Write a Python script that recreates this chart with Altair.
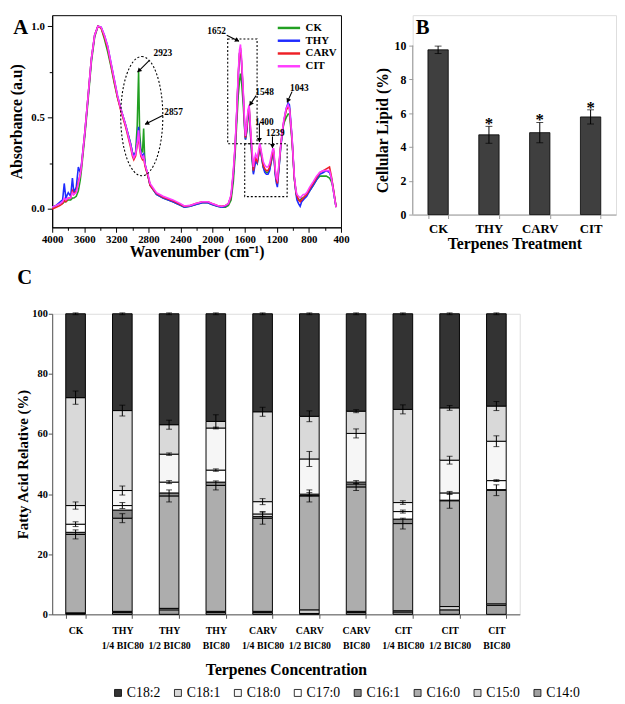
import math
import altair as alt
import pandas as pd

FONT = "Liberation Serif"

# ---------------- Panel A : FTIR spectra ----------------
wavenumber = [4000, 3950, 3900, 3870, 3850, 3830, 3800, 3770, 3748, 3730,
              3700, 3674, 3650, 3634, 3593, 3552, 3512, 3471, 3430, 3390,
              3349, 3308, 3268, 3227, 3186, 3146, 3085, 3024, 3000, 2983,
              2960, 2940, 2923, 2910, 2895, 2875, 2860, 2849, 2840, 2800,
              2780, 2700, 2617, 2495, 2400, 2353, 2280, 2210, 2129, 2060,
              2007, 1940, 1885, 1840, 1803, 1770, 1742, 1720, 1702, 1681,
              1665, 1653, 1640, 1620, 1600, 1591, 1575, 1560, 1545, 1530,
              1513, 1492, 1480, 1464, 1444, 1425, 1411, 1395, 1370, 1350,
              1330, 1310, 1289, 1265, 1249, 1239, 1220, 1205, 1193, 1175,
              1153, 1130, 1112, 1083, 1059, 1043, 1038, 1010, 982, 960,
              949, 929, 909, 890, 870, 850, 827, 790, 746, 705,
              665, 620, 583, 543, 520, 502, 480, 461]
ck = [0.01, 0.02, 0.03, 0.03, 0.04, 0.04, 0.05, 0.05, 0.06, 0.06,
      0.07, 0.10, 0.16, 0.22, 0.40, 0.60, 0.80, 0.94, 1.00, 0.99,
      0.93, 0.86, 0.78, 0.69, 0.61, 0.55, 0.46, 0.36, 0.31, 0.29,
      0.31, 0.46, 0.75, 0.42, 0.33, 0.31, 0.44, 0.30, 0.24, 0.17,
      0.13, 0.08, 0.06, 0.04, 0.02, 0.01, 0.015, 0.025, 0.035, 0.035,
      0.025, 0.015, 0.01, 0.01, 0.02, 0.05, 0.15, 0.30, 0.45, 0.62,
      0.70, 0.74, 0.70, 0.58, 0.43, 0.38, 0.42, 0.50, 0.53, 0.42,
      0.30, 0.20, 0.24, 0.27, 0.25, 0.30, 0.34, 0.30, 0.23, 0.21,
      0.20, 0.20, 0.22, 0.27, 0.31, 0.31, 0.20, 0.15, 0.14, 0.22,
      0.33, 0.42, 0.47, 0.50, 0.52, 0.52, 0.50, 0.37, 0.17, 0.09,
      0.07, 0.05, 0.05, 0.06, 0.06, 0.07, 0.08, 0.10, 0.13, 0.16,
      0.18, 0.18, 0.18, 0.17, 0.15, 0.12, 0.06, 0.01]
thy = [0.01, 0.02, 0.04, 0.05, 0.14, 0.06, 0.09, 0.07, 0.17, 0.09,
       0.12, 0.23, 0.20, 0.25, 0.42, 0.62, 0.82, 0.95, 1.00, 0.995,
       0.95, 0.89, 0.80, 0.71, 0.62, 0.55, 0.46, 0.36, 0.31, 0.29,
       0.31, 0.38, 0.45, 0.36, 0.31, 0.29, 0.30, 0.27, 0.24, 0.17,
       0.13, 0.08, 0.06, 0.04, 0.02, 0.01, 0.015, 0.025, 0.035, 0.035,
       0.025, 0.015, 0.01, 0.015, 0.03, 0.07, 0.19, 0.33, 0.50, 0.72,
       0.85, 0.87, 0.80, 0.64, 0.44, 0.38, 0.43, 0.52, 0.55, 0.43,
       0.31, 0.19, 0.22, 0.26, 0.25, 0.30, 0.34, 0.30, 0.23, 0.20,
       0.19, 0.19, 0.21, 0.27, 0.31, 0.31, 0.19, 0.14, 0.12, 0.21,
       0.33, 0.42, 0.48, 0.55, 0.58, 0.57, 0.55, 0.39, 0.17, 0.08,
       0.05, 0.03, 0.015, 0.04, 0.05, 0.06, 0.07, 0.10, 0.13, 0.16,
       0.19, 0.20, 0.21, 0.20, 0.17, 0.13, 0.06, 0.01]
carv = [0.00, 0.01, 0.02, 0.03, 0.05, 0.04, 0.06, 0.06, 0.10, 0.08,
        0.10, 0.15, 0.19, 0.24, 0.42, 0.62, 0.82, 0.95, 1.00, 0.99,
        0.94, 0.88, 0.79, 0.70, 0.61, 0.54, 0.45, 0.34, 0.29, 0.27,
        0.29, 0.35, 0.40, 0.33, 0.29, 0.27, 0.28, 0.25, 0.23, 0.17,
        0.13, 0.085, 0.065, 0.045, 0.025, 0.015, 0.02, 0.03, 0.04, 0.04,
        0.03, 0.02, 0.015, 0.02, 0.03, 0.07, 0.20, 0.34, 0.50, 0.73,
        0.85, 0.88, 0.81, 0.65, 0.45, 0.39, 0.44, 0.53, 0.56, 0.45,
        0.33, 0.21, 0.25, 0.28, 0.26, 0.31, 0.35, 0.31, 0.24, 0.22,
        0.21, 0.21, 0.23, 0.28, 0.32, 0.32, 0.21, 0.16, 0.14, 0.23,
        0.34, 0.43, 0.48, 0.54, 0.56, 0.55, 0.53, 0.38, 0.17, 0.09,
        0.07, 0.05, 0.04, 0.05, 0.06, 0.07, 0.08, 0.11, 0.14, 0.17,
        0.20, 0.21, 0.22, 0.23, 0.18, 0.13, 0.07, 0.01]
cit = [0.01, 0.02, 0.03, 0.04, 0.06, 0.05, 0.06, 0.06, 0.09, 0.08,
       0.09, 0.14, 0.19, 0.24, 0.42, 0.62, 0.82, 0.95, 1.00, 0.995,
       0.95, 0.89, 0.80, 0.71, 0.62, 0.55, 0.46, 0.35, 0.30, 0.28,
       0.30, 0.36, 0.43, 0.34, 0.30, 0.28, 0.29, 0.26, 0.24, 0.18,
       0.14, 0.09, 0.07, 0.05, 0.03, 0.017, 0.02, 0.03, 0.04, 0.04,
       0.03, 0.02, 0.014, 0.02, 0.03, 0.08, 0.21, 0.35, 0.51, 0.74,
       0.87, 0.90, 0.83, 0.66, 0.46, 0.40, 0.46, 0.54, 0.57, 0.46,
       0.35, 0.23, 0.27, 0.30, 0.28, 0.33, 0.36, 0.32, 0.26, 0.24,
       0.23, 0.23, 0.25, 0.30, 0.33, 0.33, 0.22, 0.17, 0.16, 0.24,
       0.34, 0.43, 0.49, 0.55, 0.57, 0.55, 0.53, 0.39, 0.18, 0.10,
       0.08, 0.07, 0.06, 0.07, 0.08, 0.08, 0.09, 0.12, 0.15, 0.18,
       0.20, 0.21, 0.21, 0.21, 0.17, 0.12, 0.06, 0.01]
series_names = ["CK", "THY", "CARV", "CIT"]
series_colors = ["#22a022", "#1f2bff", "#ee1f26", "#ff3dff"]

peak_labels = ["2923", "2857", "1652", "1548", "1400", "1239", "1043"]
label_wn = [2621, 2487, 1950, 1352, 1356, 1218, 919]
label_abs = [0.852, 0.529, 0.972, 0.642, 0.478, 0.417, 0.661]
arrow_wn_start = [2792, 2617, 1824, 1458, 1417, 1254, 1010]
arrow_abs_start = [0.811, 0.513, 0.950, 0.620, 0.469, 0.397, 0.642]
arrow_wn_end = [2935, 2841, 1673, 1539, 1417, 1254, 1071]
arrow_abs_end = [0.749, 0.464, 0.918, 0.567, 0.367, 0.335, 0.584]

ellipse_wn = [3146, 2621]      # left / right extent
ellipse_abs = [0.834, 0.182]   # top / bottom extent
box_wn_start = [1812, 1600]
box_wn_end = [1446, 1071]
box_abs_top = [0.93, 0.357]
box_abs_bottom = [0.357, 0.068]

# ---------------- Panel B : cellular lipid ----------------
b_treat = ["CK", "THY", "CARV", "CIT"]
b_lipid = [9.75, 4.72, 4.85, 5.78]
b_err = [0.22, 0.50, 0.60, 0.42]
b_star = [False, True, True, True]
b_ticks = [0, 2, 4, 6, 8, 10]

# ---------------- Panel C : fatty acid composition ----------------
c_treat = ["CK", "THY|1/4 BIC80", "THY|1/2 BIC80", "THY|BIC80",
           "CARV|1/4 BIC80", "CARV|1/2 BIC80", "CARV|BIC80",
           "CIT|1/4 BIC80", "CIT|1/2 BIC80", "CIT|BIC80"]
c14_0 = [0.3, 0.6, 1.5, 0.6, 0.6, 0.3, 0.6, 0.8, 1.5, 3.0]
c15_0 = [0.2, 0.4, 0.5, 0.4, 0.4, 1.2, 0.4, 0.4, 1.1, 0.5]
c16_0 = [26.1, 31.0, 37.4, 41.9, 31.0, 37.9, 41.4, 29.0, 35.2, 37.8]
c16_1 = [0.7, 2.7, 1.0, 1.1, 0.6, 0.3, 1.0, 1.5, 0.2, 0.2]
c17_0 = [2.7, 1.5, 3.6, 4.0, 0.8, 0.3, 0.6, 2.5, 2.4, 3.0]
c18_0 = [6.2, 5.0, 9.3, 14.0, 4.1, 11.7, 16.2, 3.0, 10.9, 13.1]
c18_1 = [35.9, 26.6, 9.8, 2.2, 29.9, 14.2, 7.4, 31.0, 17.4, 11.7]
c18_2 = [27.9, 32.2, 36.9, 35.8, 32.6, 34.1, 32.4, 31.8, 31.3, 30.7]
err16_0 = [1.5, 1.5, 2.0, 1.5, 2.0, 2.0, 1.2, 1.8, 2.5, 1.8]
err17_0 = [0.8, 1.0, 0.5, 0.4, 0.8, 0.5, 0.5, 0.5, 0.5, 0.3]
err18_0 = [1.2, 1.5, 0.4, 0.3, 1.0, 2.5, 1.5, 0.6, 1.3, 1.8]
err18_1 = [2.2, 1.8, 1.5, 2.2, 1.5, 1.8, 0.5, 1.5, 0.8, 1.5]
err18_2 = [0.3, 0.3, 0.3, 0.3, 0.3, 0.3, 0.3, 0.3, 0.3, 0.3]
fa_names = ["C14:0", "C15:0", "C16:0", "C16:1", "C17:0", "C18:0", "C18:1", "C18:2"]
fa_legend_order = ["C18:2", "C18:1", "C18:0", "C17:0", "C16:1", "C16:0", "C15:0", "C14:0"]
fa_fill = ["#333333", "#d9d9d9", "#f6f6f6", "#ffffff", "#8a8a8a", "#adadad", "#d0d0d0", "#a0a0a0"]

# ================= build panel A =================
WA, HA = 294, 216
XDOM = [400, 4000]
YDOM = [-0.1, 1.06]
px_per_wn = WA / (XDOM[1] - XDOM[0])
px_per_abs = HA / (YDOM[1] - YDOM[0])

rows = []
for name, vals in zip(series_names, [ck, thy, carv, cit]):
    for w, v in zip(wavenumber, vals):
        rows.append({"wn": w, "abs": v, "series": name})
dfA = pd.DataFrame(rows)

sAx = alt.Scale(domain=XDOM, reverse=True, nice=False, zero=False)
sAy = alt.Scale(domain=YDOM, nice=False, zero=False)
axAx = alt.Axis(values=list(range(400, 4001, 200)), format="d",
                labelExpr="datum.value % 400 == 0 ? datum.label : ''",
                title="Wavenumber (cm⁻¹)", titleFont=FONT, titleFontSize=16,
                titleFontWeight="bold", titleColor="black", titlePadding=0,
                labelFont=FONT, labelFontSize=11, labelFontWeight="bold",
                labelColor="black", labelPadding=1, labelOverlap=False, labelFlush=False,
                domainColor="black", tickColor="black",
                tickSize={"condition": {"test": "datum.value % 400 == 0", "value": 5}, "value": 3},
                grid=False)
axAy = alt.Axis(values=[0, 0.25, 0.5, 0.75, 1.0], format=".1f",
                labelExpr="datum.value == 0.25 || datum.value == 0.75 ? '' : datum.label",
                title="Absorbance (a.u)", titleFont=FONT, titleFontSize=16,
                titleFontWeight="bold", titleColor="black", titlePadding=6,
                labelFont=FONT, labelFontSize=11, labelFontWeight="bold",
                labelColor="black", labelPadding=3, labelOverlap=False,
                domainColor="black", tickColor="black",
                tickSize={"condition": {"test": "datum.value == 0 || datum.value == 0.5 || datum.value == 1", "value": 5}, "value": 3},
                grid=False)

colA = alt.Color("series:N", scale=alt.Scale(domain=series_names, range=series_colors),
                 legend=alt.Legend(title=None, orient="none", legendX=233, legendY=5,
                                   symbolType="M-1.75,0L1.75,0", symbolStrokeWidth=2.5,
                                   symbolSize=169, symbolFillColor="transparent",
                                   labelFont=FONT, labelFontSize=11, labelFontWeight="bold",
                                   labelColor="black", labelOffset=9, rowPadding=0, padding=0))

line_layers = []
for s in series_names:
    line_layers.append(
        alt.Chart(dfA).transform_filter(alt.datum.series == s)
        .mark_line(strokeWidth=1.6)
        .encode(x=alt.X("wn:Q", scale=sAx, axis=axAx),
                y=alt.Y("abs:Q", scale=sAy, axis=axAy),
                color=colA)
    )

dfBox = pd.DataFrame({"w1": box_wn_start, "w2": box_wn_end, "a1": box_abs_top, "a2": box_abs_bottom})
boxes = alt.Chart(dfBox).mark_rect(filled=False, stroke="black", strokeWidth=1.1,
                                   strokeDash=[2, 2]).encode(
    x=alt.X("w1:Q", scale=sAx, axis=axAx), x2="w2:Q",
    y=alt.Y("a1:Q", scale=sAy, axis=axAy), y2="a2:Q")

ell_w = abs(ellipse_wn[0] - ellipse_wn[1]) * px_per_wn
ell_h = abs(ellipse_abs[0] - ellipse_abs[1]) * px_per_abs
a = ell_w / ell_h
k = 0.5523
ell_path = (f"M0,-1C{k*a:.4f},-1,{a:.4f},{-k:.4f},{a:.4f},0"
            f"C{a:.4f},{k:.4f},{k*a:.4f},1,0,1"
            f"C{-k*a:.4f},1,{-a:.4f},{k:.4f},{-a:.4f},0"
            f"C{-a:.4f},{-k:.4f},{-k*a:.4f},-1,0,-1Z")
dfEll = pd.DataFrame({"wn": [sum(ellipse_wn) / 2], "abs": [sum(ellipse_abs) / 2]})
ellipse = alt.Chart(dfEll).mark_point(shape=ell_path, filled=False, stroke="black",
                                      strokeWidth=1.1, strokeDash=[2, 2], opacity=1,
                                      size=ell_h ** 2).encode(
    x=alt.X("wn:Q", scale=sAx, axis=axAx), y=alt.Y("abs:Q", scale=sAy, axis=axAy))

arr_rows = []
for i in range(len(peak_labels)):
    dx = (arrow_wn_start[i] - arrow_wn_end[i]) * px_per_wn
    dy = (arrow_abs_start[i] - arrow_abs_end[i]) * px_per_abs
    ang = math.degrees(math.atan2(dx, -dy)) % 360
    L = math.hypot(dx, dy)
    back = 2.5 / L
    arr_rows.append({"ws": arrow_wn_start[i], "as": arrow_abs_start[i],
                     "we": arrow_wn_end[i], "ae": arrow_abs_end[i],
                     "hw": arrow_wn_end[i] + (arrow_wn_start[i] - arrow_wn_end[i]) * back,
                     "ha": arrow_abs_end[i] + (arrow_abs_start[i] - arrow_abs_end[i]) * back,
                     "ang": ang, "lab": peak_labels[i],
                     "lw": label_wn[i], "la": label_abs[i]})
dfArr = pd.DataFrame(arr_rows)
arrow_lines = alt.Chart(dfArr).mark_rule(color="black", strokeWidth=1.1).encode(
    x=alt.X("ws:Q", scale=sAx, axis=axAx), x2="we:Q",
    y=alt.Y("as:Q", scale=sAy, axis=axAy), y2="ae:Q")
arrow_heads = alt.Chart(dfArr).mark_point(shape="triangle", filled=True, color="black",
                                          opacity=1, size=26).encode(
    x=alt.X("hw:Q", scale=sAx, axis=axAx), y=alt.Y("ha:Q", scale=sAy, axis=axAy),
    angle=alt.Angle("ang:Q", scale=None))
peak_text = alt.Chart(dfArr).mark_text(font=FONT, fontSize=9.5, fontWeight="bold",
                                       color="black").encode(
    x=alt.X("lw:Q", scale=sAx, axis=axAx), y=alt.Y("la:Q", scale=sAy, axis=axAy),
    text="lab:N")
letterA = alt.Chart(pd.DataFrame({"t": ["A"]})).mark_text(
    font=FONT, fontSize=21, fontWeight="bold", color="black", align="center",
    baseline="top").encode(x=alt.value(-32), y=alt.value(2), text="t:N")

panelA = alt.layer(*line_layers, boxes, ellipse, arrow_lines, arrow_heads, peak_text,
                   letterA).properties(width=WA, height=HA,
                                       view=alt.ViewBackground(stroke="black", strokeWidth=1))

# ================= build panel B =================
WB, HB = 207, 203
B_TOP = 11.8
dfB = pd.DataFrame({"t": b_treat, "v": b_lipid, "e": b_err, "star": b_star})
dfB["lo"] = dfB["v"] - dfB["e"]
dfB["hi"] = dfB["v"] + dfB["e"]
sBy = alt.Scale(domain=[0, B_TOP], nice=False)
xB = alt.X("t:N", sort=b_treat, scale=alt.Scale(paddingInner=0.6, paddingOuter=0.3),
           axis=alt.Axis(title="Terpenes Treatment", labelAngle=0, tickBand="extent",
                         titleFont=FONT, titleFontSize=16, titleFontWeight="bold",
                         titleColor="black", titlePadding=1,
                         labelFont=FONT, labelFontSize=13, labelFontWeight="bold",
                         labelColor="black", labelPadding=4,
                         domainColor="#9a9a9a", tickColor="#9a9a9a", tickSize=4))
axBy = alt.Axis(values=b_ticks, title="Cellular Lipid (%)",
                titleFont=FONT, titleFontSize=16, titleFontWeight="bold",
                titleColor="black", titlePadding=4, titleY=HB - 86,
                labelFont=FONT, labelFontSize=12, labelFontWeight="bold",
                labelColor="black", labelPadding=3, labelOverlap=False, grid=False,
                domain=False, tickColor="#9a9a9a", tickSize=4)
baseB = alt.Chart(dfB)
barsB = baseB.mark_bar(fill="#3f3f3f", stroke="black", strokeWidth=0.8).encode(
    x=xB, y=alt.Y("v:Q", scale=sBy, axis=axBy))
axis_line_B = alt.Chart(pd.DataFrame({"lo": [b_ticks[0]], "hi": [b_ticks[-1]]})).mark_rule(
    color="#9a9a9a", strokeWidth=1).encode(
    x=alt.value(0), y=alt.Y("lo:Q", scale=sBy, axis=axBy), y2="hi:Q")
errB = baseB.mark_rule(color="black", strokeWidth=1).encode(
    x=xB, y=alt.Y("lo:Q", scale=sBy, axis=axBy), y2="hi:Q")
capHiB = baseB.mark_tick(color="black", size=7, thickness=1, orient="horizontal").encode(
    x=xB, y=alt.Y("hi:Q", scale=sBy, axis=axBy))
capLoB = baseB.mark_tick(color="black", size=7, thickness=1, orient="horizontal").encode(
    x=xB, y=alt.Y("lo:Q", scale=sBy, axis=axBy))
starB = baseB.transform_filter("datum.star").mark_text(
    text="*", font=FONT, fontSize=17, fontWeight="bold", color="black",
    baseline="alphabetic", dy=3).encode(x=xB, y=alt.Y("hi:Q", scale=sBy, axis=axBy))
letterB = alt.Chart(pd.DataFrame({"t": ["B"]})).mark_text(
    font=FONT, fontSize=21, fontWeight="bold", color="black", align="center",
    baseline="top").encode(x=alt.value(10), y=alt.value(2), text="t:N")
panelB = alt.layer(barsB, axis_line_B, errB, capHiB, capLoB, starB, letterB).properties(
    width=WB, height=HB)

# ================= build panel C =================
WC, HC = 476, 306
seg_rows = []
err_rows = []
fa_values = [c14_0, c15_0, c16_0, c16_1, c17_0, c18_0, c18_1, c18_2]
err_map = {"C16:0": err16_0, "C17:0": err17_0, "C18:0": err18_0,
           "C18:1": err18_1, "C18:2": err18_2}
for i, t in enumerate(c_treat):
    base = 0.0
    for fa, vals in zip(fa_names, fa_values):
        top_v = base + vals[i]
        seg_rows.append({"t": t, "fa": fa, "y0": base, "y1": top_v})
        if fa in err_map:
            e = err_map[fa][i]
            err_rows.append({"t": t, "lo": top_v - e, "hi": min(top_v + e, 100.4)})
        base = top_v
dfC = pd.DataFrame(seg_rows)
dfCe = pd.DataFrame(err_rows)

sCy = alt.Scale(domain=[0, 100], nice=False)
xC = alt.X("t:N", sort=c_treat, scale=alt.Scale(paddingInner=0.58, paddingOuter=0.29),
           axis=alt.Axis(title="Terpenes Concentration", labelAngle=0, tickBand="extent",
                         labelExpr="split(datum.label, '|')", labelLineHeight=15,
                         titleFont=FONT, titleFontSize=16, titleFontWeight="bold",
                         titleColor="black", titlePadding=11,
                         labelFont=FONT, labelFontSize=10, labelFontWeight="bold",
                         labelColor="black", labelPadding=8,
                         domainColor="#555555", tickColor="#555555", tickSize=4))
axCy = alt.Axis(values=[0, 20, 40, 60, 80, 100], title="Fatty Acid Relative (%)",
                titleFont=FONT, titleFontSize=15, titleFontWeight="bold",
                titleColor="black", titlePadding=1,
                labelFont=FONT, labelFontSize=10.5, labelFontWeight="bold",
                labelColor="black", labelPadding=1, grid=False,
                domainColor="#555555", tickColor="#555555", tickSize=4)
fillC = alt.Fill("fa:N", scale=alt.Scale(domain=fa_legend_order, range=fa_fill),
                 legend=alt.Legend(title=None, orient="none", direction="horizontal",
                                   columns=8, legendX=60, legendY=379,
                                   symbolType="square", symbolSize=50,
                                   symbolStrokeColor="black", symbolStrokeWidth=0.8,
                                   labelFont=FONT, labelFontSize=14, labelColor="black",
                                   labelOffset=2, columnPadding=10, padding=0))
barsC = alt.Chart(dfC).mark_bar(stroke="black", strokeWidth=1).encode(
    x=xC, y=alt.Y("y0:Q", scale=sCy, axis=axCy), y2="y1:Q", fill=fillC)
errC = alt.Chart(dfCe).mark_rule(color="black", strokeWidth=1).encode(
    x=xC, y=alt.Y("lo:Q", scale=sCy, axis=axCy), y2="hi:Q")
capHiC = alt.Chart(dfCe).mark_tick(color="black", size=6, thickness=1, orient="horizontal").encode(
    x=xC, y=alt.Y("hi:Q", scale=sCy, axis=axCy))
capLoC = alt.Chart(dfCe).mark_tick(color="black", size=6, thickness=1, orient="horizontal").encode(
    x=xC, y=alt.Y("lo:Q", scale=sCy, axis=axCy))
letterC = alt.Chart(pd.DataFrame({"t": ["C"]})).mark_text(
    font=FONT, fontSize=21, fontWeight="bold", color="black", align="center",
    baseline="top").encode(x=alt.value(-28), y=alt.value(-47), text="t:N")
panelC = alt.layer(barsC, errC, capHiC, capLoC, letterC).properties(width=WC, height=HC)

top = alt.hconcat(panelA, panelB, spacing=24).resolve_scale(color="independent").resolve_legend(color="independent")
chart = alt.vconcat(top, panelC, spacing=6).resolve_scale(
    color="independent", fill="independent").resolve_legend(
    color="independent", fill="independent").properties(
    padding={"left": 0, "top": 0, "right": 0, "bottom": 0}).configure_view(
    stroke=None).configure(font=FONT)

chart.save("out.html", embed_options={"renderer": "svg", "actions": False})
